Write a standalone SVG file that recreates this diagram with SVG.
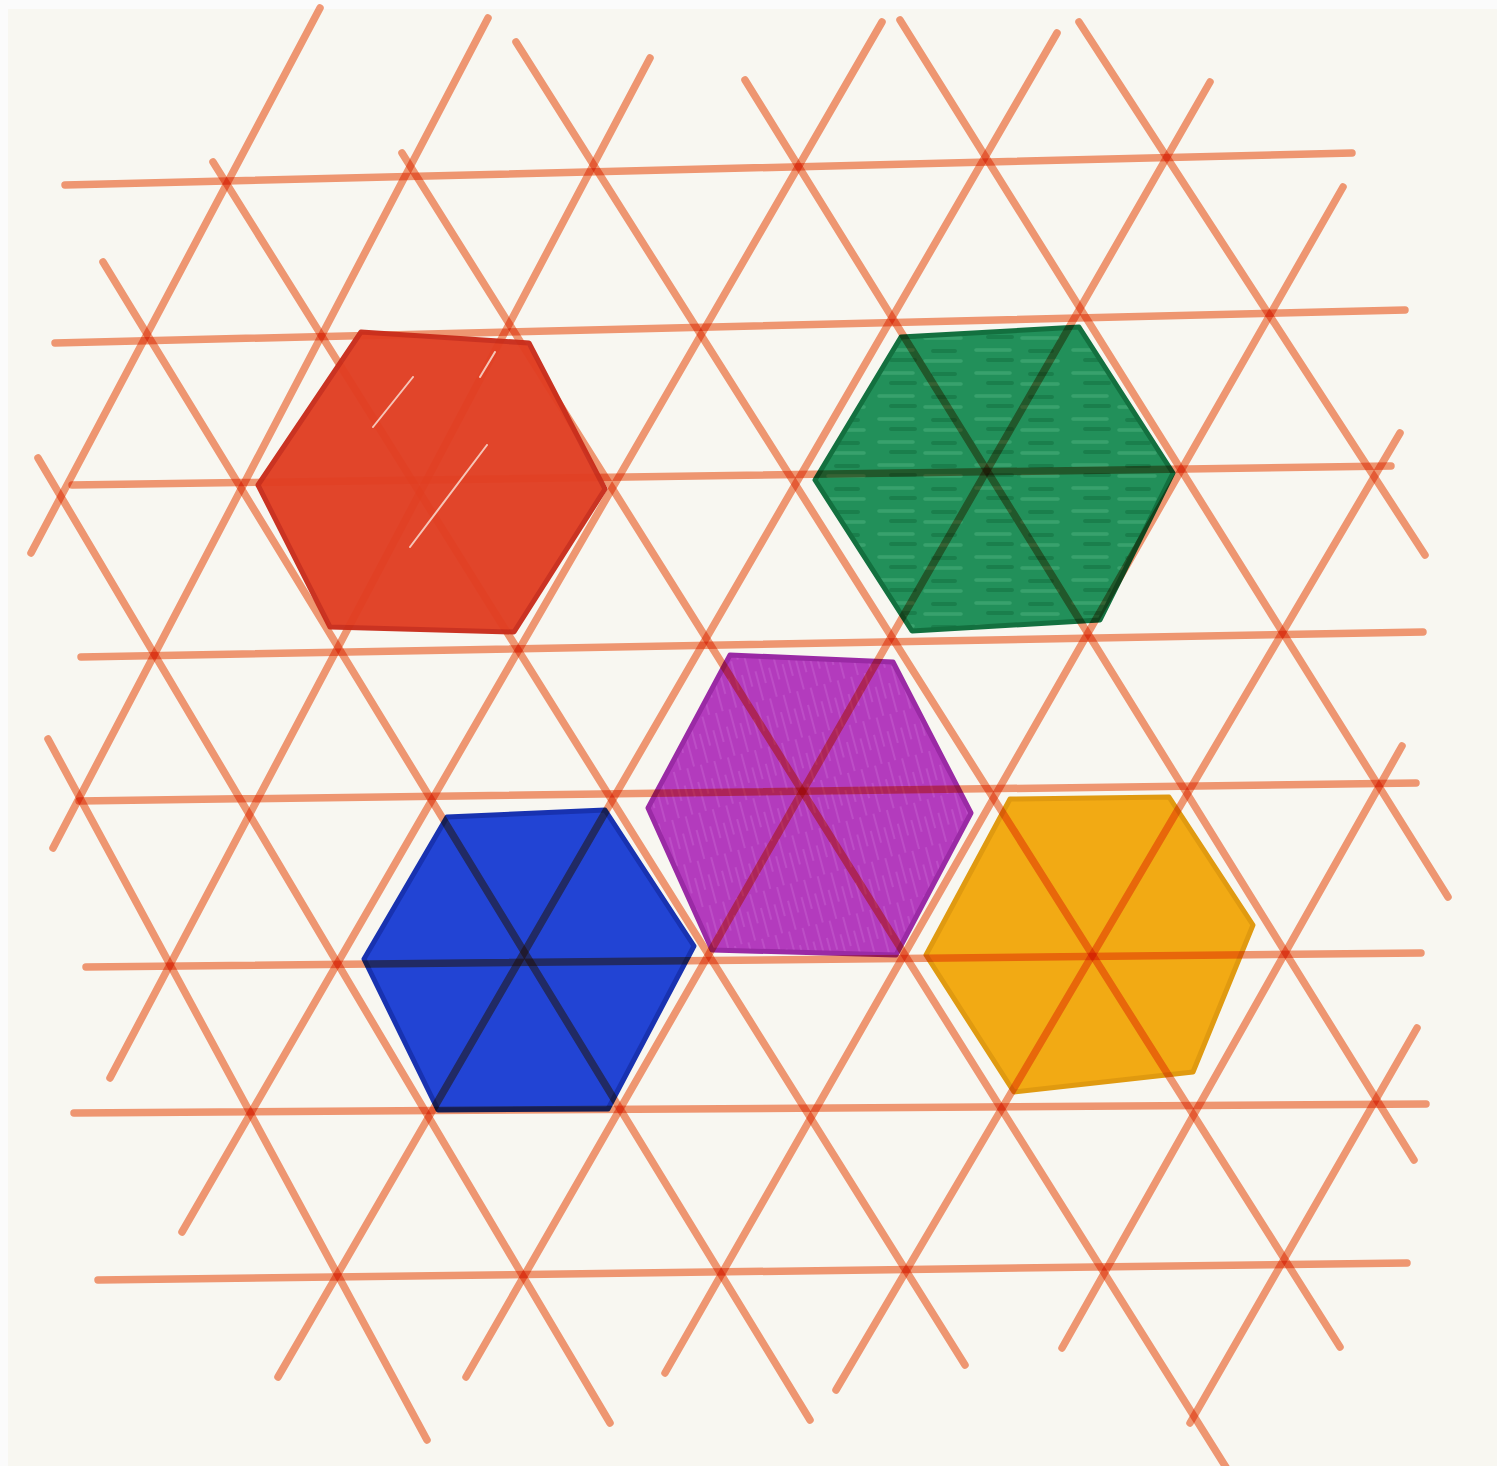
<svg xmlns="http://www.w3.org/2000/svg" width="1497" height="1466" viewBox="0 0 1497 1466">
<style>
#grid line { stroke:#f59b78; stroke-width:7.5; stroke-linecap:round; mix-blend-mode:multiply; fill:none }
.hex { stroke-linejoin:round; stroke-width:5 }
.streak { stroke:#fbe6dc; stroke-width:2; stroke-linecap:round; opacity:0.8 }
</style>
<defs>
  <pattern id="greenTex" width="97" height="23" patternUnits="userSpaceOnUse">
    <rect width="97" height="23" fill="#22905a"/>
    <path d="M6 5 H40 M52 16 H88" stroke="#5abb88" stroke-width="3.5" stroke-linecap="round" opacity="0.4"/>
    <path d="M18 15 H42 M60 6 H82" stroke="#0f6a3c" stroke-width="4" stroke-linecap="round" opacity="0.45"/>
  </pattern>
  <pattern id="purpleTex" width="14" height="46" patternUnits="userSpaceOnUse" patternTransform="rotate(-15)">
    <rect width="14" height="46" fill="#b33bbd"/>
    <path d="M3 0 V30 M10 16 V46" stroke="#c965d2" stroke-width="1.5" opacity="0.55"/>
  </pattern>
</defs>
<rect width="1497" height="1466" fill="#fbfbfb"/>
<rect x="8" y="9" width="1489" height="1457" fill="#f8f7f1"/>
<g id="hexagons">
  <polygon id="hex-green" class="hex" points="901,337 1079,327 1173,473 1100,620 912,631 815,480" fill="url(#greenTex)" stroke="#13703f"/>
  <polygon id="hex-purple" class="hex" points="730,655 893,662 971,813 896,955 712,950 648,808" fill="url(#purpleTex)" stroke="#9a2aa5"/>
  <polygon id="hex-blue" class="hex" points="447,817 605,810 694,946 608,1109 438,1110 364,959" fill="#2244d4" stroke="#1832b0"/>
  <polygon id="hex-yellow" class="hex" points="1010,799 1169,797 1253,925 1193,1072 1014,1092 926,955" fill="#f2aa14" stroke="#e09a10"/>
</g>
<g id="grid">
  <line x1="65" y1="185" x2="1352" y2="153"/>
  <line x1="55" y1="343" x2="1405" y2="310"/>
  <line x1="72" y1="485" x2="1391" y2="466"/>
  <line x1="81" y1="657" x2="1423" y2="632"/>
  <line x1="79" y1="801" x2="1416" y2="783"/>
  <line x1="86" y1="967" x2="1421" y2="953"/>
  <line x1="74" y1="1113" x2="1426" y2="1104"/>
  <line x1="98" y1="1280" x2="1407" y2="1263"/>
  <line x1="31" y1="553" x2="320" y2="8"/>
  <line x1="53" y1="848" x2="488" y2="18"/>
  <line x1="110" y1="1078" x2="650" y2="58"/>
  <line x1="182" y1="1232" x2="882" y2="22"/>
  <line x1="278" y1="1377" x2="1057" y2="33"/>
  <line x1="466" y1="1377" x2="1210" y2="82"/>
  <line x1="665" y1="1373" x2="1343" y2="187"/>
  <line x1="836" y1="1390" x2="1400" y2="433"/>
  <line x1="1062" y1="1348" x2="1402" y2="746"/>
  <line x1="1190" y1="1423" x2="1417" y2="1028"/>
  <line x1="103" y1="262" x2="810" y2="1420"/>
  <line x1="213" y1="162" x2="965" y2="1365"/>
  <line x1="402" y1="153" x2="1234" y2="1480"/>
  <line x1="516" y1="42" x2="1340" y2="1347"/>
  <line x1="745" y1="80" x2="1414" y2="1160"/>
  <line x1="900" y1="20" x2="1448" y2="897"/>
  <line x1="1079" y1="22" x2="1425" y2="555"/>
  <line x1="38" y1="458" x2="610" y2="1423"/>
  <line x1="48" y1="739" x2="427" y2="1440"/>
</g>
<g id="hex-red-top">
  <polygon id="hex-red" class="hex" points="361,332 529,343 605,489 514,632 330,627 258,485" fill="#e13e22" stroke="#c92c1a" opacity="0.96"/>
  <line class="streak" x1="373" y1="427" x2="413" y2="377"/>
  <line class="streak" x1="410" y1="547" x2="487" y2="445"/>
  <line class="streak" x1="480" y1="377" x2="495" y2="352"/>
</g>
</svg>
